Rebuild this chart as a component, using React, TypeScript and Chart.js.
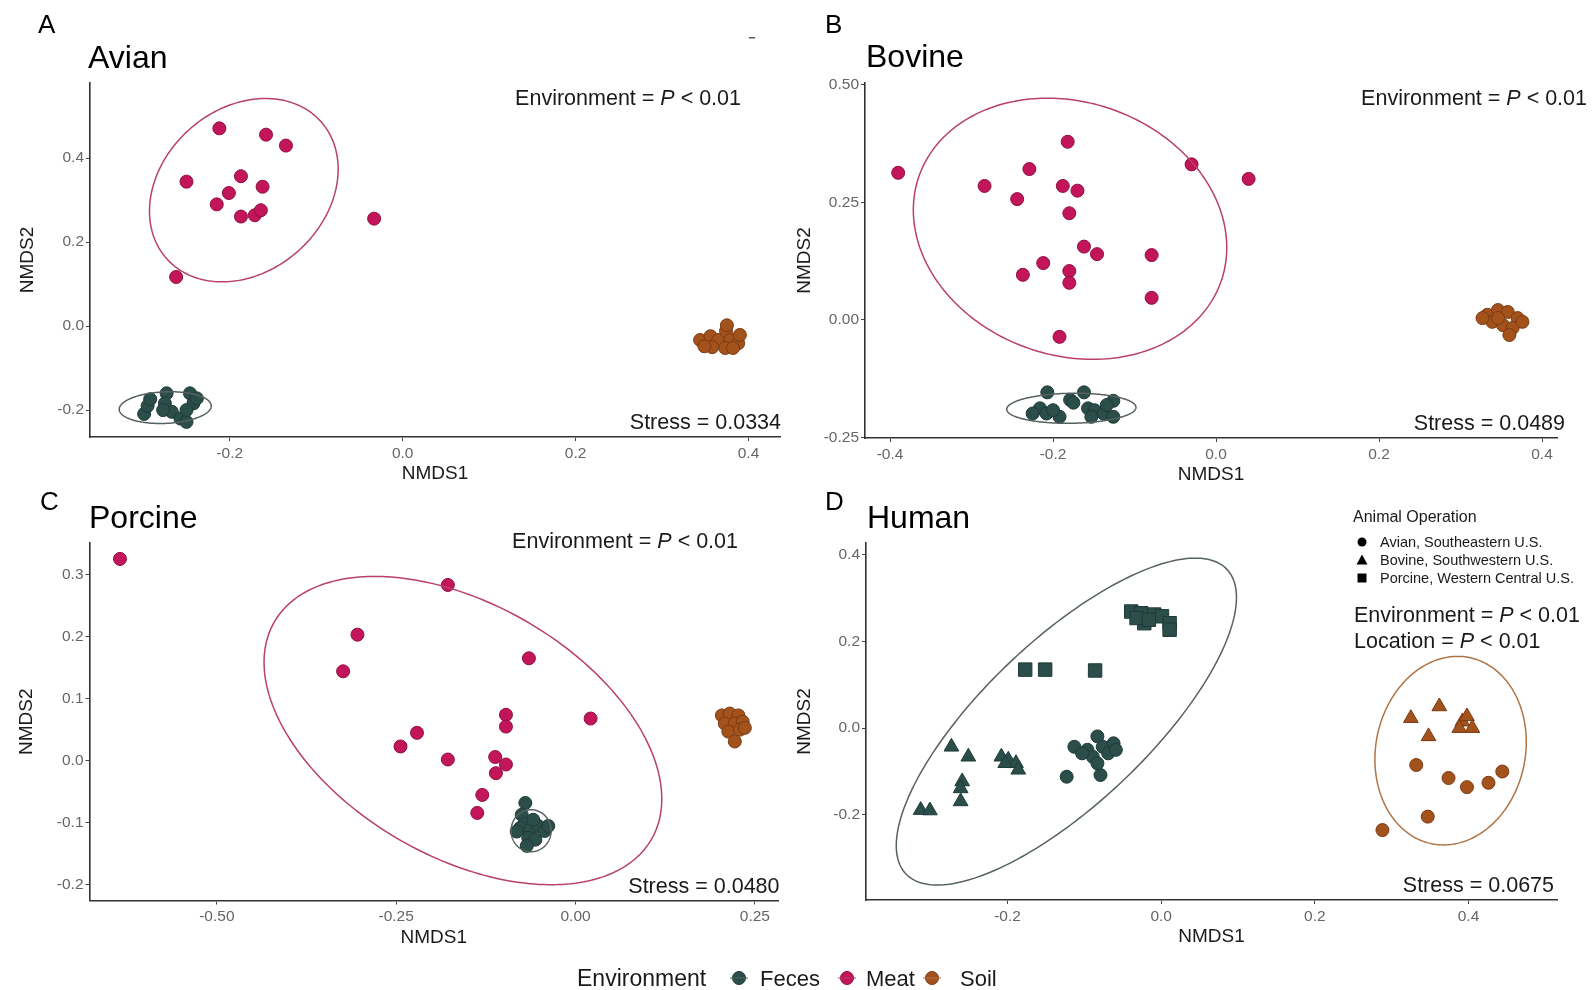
import React, { useEffect, useRef } from "react";
import { Chart, registerables } from "chart.js";
Chart.register(...registerables);

const FONT = '"Liberation Sans", Arial, Helvetica, sans-serif';

// ---------- data: Avian ----------
const avianFeces = [
  [-0.299, -0.209], [-0.295, -0.19], [-0.292, -0.174], [-0.273, -0.16], [-0.275, -0.184],
  [-0.267, -0.204], [-0.257, -0.22], [-0.25, -0.228], [-0.277, -0.2], [-0.246, -0.16],
  [-0.242, -0.184], [-0.25, -0.2], [-0.238, -0.172],
];
const avianMeat = [
  [-0.212, 0.471], [-0.158, 0.456], [-0.135, 0.43], [-0.25, 0.344], [-0.187, 0.357],
  [-0.162, 0.332], [-0.201, 0.317], [-0.215, 0.29], [-0.187, 0.261], [-0.171, 0.264],
  [-0.164, 0.276], [-0.033, 0.256], [-0.262, 0.117],
];
const avianSoil = [
  [0.344, -0.033], [0.356, -0.024], [0.365, -0.033], [0.374, -0.012], [0.375, 0.002],
  [0.379, -0.033], [0.388, -0.041], [0.373, -0.052], [0.358, -0.05], [0.39, -0.021],
  [0.382, -0.052], [0.349, -0.048],
];
// ellipse: [centerX, centerY, u.x, u.y, v.x, v.y]
const avianFecesEllipse = [-0.2746, -0.194, 0.0532, 0.004, 0, 0.0376];
const avianMeatEllipse = [-0.1837, 0.3238, 0.1091, 0.05, 0, 0.2125];
const avianXTicks = [-0.2, 0, 0.2, 0.4];
const avianXLabels = ["-0.2", "0.0", "0.2", "0.4"];
const avianYTicks = [-0.2, 0, 0.2, 0.4];
const avianYLabels = ["-0.2", "0.0", "0.2", "0.4"];

// ---------- data: Bovine ----------
const bovineFeces = [
  [-0.207, -0.154], [-0.162, -0.154], [-0.179, -0.17], [-0.175, -0.176], [-0.216, -0.188],
  [-0.225, -0.199], [-0.208, -0.199], [-0.192, -0.206], [-0.157, -0.188], [-0.149, -0.192],
  [-0.138, -0.199], [-0.126, -0.172], [-0.126, -0.206], [-0.153, -0.206], [-0.134, -0.181],
  [-0.2, -0.192],
];
const bovineMeat = [
  [-0.39, 0.313], [-0.182, 0.379], [-0.03, 0.331], [0.04, 0.3], [-0.229, 0.321],
  [-0.284, 0.285], [-0.188, 0.285], [-0.17, 0.275], [-0.244, 0.257], [-0.18, 0.227],
  [-0.162, 0.156], [-0.146, 0.14], [-0.079, 0.138], [-0.212, 0.121], [-0.237, 0.096],
  [-0.18, 0.104], [-0.18, 0.079], [-0.079, 0.047], [-0.192, -0.036],
];
const bovineSoil = [
  [0.333, 0.011], [0.346, 0.021], [0.358, 0.017], [0.37, 0.004], [0.339, -0.004],
  [0.352, -0.011], [0.364, -0.017], [0.376, -0.004], [0.36, -0.032], [0.327, 0.004],
  [0.346, 0.004],
];
const bovineFecesEllipse = [-0.1775, -0.1879, 0.0793, 0.002, 0, 0.0319];
const bovineMeatEllipse = [-0.1791, 0.194, 0.1923, -0.04, 0, 0.2748];
const bovineXTicks = [-0.4, -0.2, 0, 0.2, 0.4];
const bovineXLabels = ["-0.4", "-0.2", "0.0", "0.2", "0.4"];
const bovineYTicks = [-0.25, 0, 0.25, 0.5];
const bovineYLabels = ["-0.25", "0.00", "0.25", "0.50"];

// ---------- data: Porcine ----------
const porcineFeces = [
  [-0.07, -0.068], [-0.075, -0.087], [-0.07, -0.101], [-0.077, -0.108], [-0.063, -0.111],
  [-0.052, -0.105], [-0.043, -0.113], [-0.066, -0.124], [-0.056, -0.127], [-0.068, -0.137],
  [-0.082, -0.114], [-0.038, -0.105], [-0.059, -0.095],
];
const porcineMeat = [
  [-0.635, 0.325], [-0.178, 0.283], [-0.304, 0.203], [-0.324, 0.144], [-0.065, 0.165],
  [-0.097, 0.074], [-0.097, 0.055], [0.021, 0.068], [-0.221, 0.045], [-0.244, 0.023],
  [-0.178, 0.002], [-0.112, 0.006], [-0.097, -0.006], [-0.111, -0.02], [-0.13, -0.055],
  [-0.137, -0.084],
];
const porcineSoil = [
  [0.204, 0.073], [0.215, 0.076], [0.227, 0.073], [0.208, 0.06], [0.222, 0.06],
  [0.233, 0.063], [0.213, 0.047], [0.229, 0.05], [0.236, 0.053], [0.222, 0.031],
];
const porcineFecesEllipse = [-0.062, -0.1127, 0.0279, 0, 0, 0.0338];
const porcineMeatEllipse = [-0.157, 0.0486, 0.2772, -0.11, 0, 0.2225];
const porcineXTicks = [-0.5, -0.25, 0, 0.25];
const porcineXLabels = ["-0.50", "-0.25", "0.00", "0.25"];
const porcineYTicks = [-0.2, -0.1, 0, 0.1, 0.2, 0.3];
const porcineYLabels = ["-0.2", "-0.1", "0.0", "0.1", "0.2", "0.3"];

// ---------- data: Human ----------
const humanFecesAvian = [
  [-0.123, -0.112], [-0.079, -0.108], [-0.113, -0.043], [-0.096, -0.05], [-0.083, -0.019],
  [-0.076, -0.043], [-0.062, -0.035], [-0.089, -0.066], [-0.083, -0.081], [-0.103, -0.058],
  [-0.069, -0.058], [-0.059, -0.05],
];
const humanFecesBovine = [
  [-0.273, -0.043], [-0.251, -0.066], [-0.259, -0.123], [-0.261, -0.139], [-0.261, -0.169],
  [-0.313, -0.189], [-0.301, -0.19], [-0.208, -0.066], [-0.199, -0.073], [-0.189, -0.081],
  [-0.186, -0.096], [-0.203, -0.081],
];
const humanFecesPorcine = [
  [-0.039, 0.269], [-0.026, 0.265], [-0.022, 0.242], [-0.009, 0.262], [0.001, 0.258],
  [0.011, 0.242], [0.011, 0.227], [-0.032, 0.254], [-0.016, 0.25], [-0.177, 0.135],
  [-0.151, 0.135], [-0.086, 0.133],
];
const humanSoilBovine = [
  [0.325, 0.023], [0.362, 0.05], [0.348, -0.019], [0.392, 0.015], [0.398, 0.027],
  [0.405, 0.0], [0.388, 0.0],
];
const humanSoilAvian = [
  [0.332, -0.085], [0.374, -0.115], [0.398, -0.136], [0.426, -0.126], [0.444, -0.1],
  [0.347, -0.204], [0.288, -0.235],
];
const humanFecesEllipse = [-0.1234, 0.0152, 0.2214, 0.286, 0, 0.2455];
const humanSoilEllipse = [0.3767, -0.0519, 0.0985, 0.02, 0, 0.2165];
const humanXTicks = [-0.2, 0, 0.2, 0.4];
const humanXLabels = ["-0.2", "0.0", "0.2", "0.4"];
const humanYTicks = [-0.2, 0, 0.2, 0.4];
const humanYLabels = ["-0.2", "0.0", "0.2", "0.4"];

const environments = ["Feces", "Meat", "Soil"];
const operations = ["Avian, Southeastern U.S.", "Bovine, Southwestern U.S.", "Porcine, Western Central U.S."];
const stressValues = ["0.0334", "0.0489", "0.0480", "0.0675"];

// ---------- styles ----------
const COL = { Feces: "#2c4e4a", Meat: "#c2155a", Soil: "#a4521c" };
const EDGE = { Feces: "#1e3a37", Meat: "#8f0f42", Soil: "#7a3a12" };
const ELL = { Feces: "#56625f", Meat: "#b8406a", Soil: "#b07445" };
const W = 1594;
const H = 990;

type Seg = { text: string; italic?: boolean };

function drawRich(ctx: CanvasRenderingContext2D, segs: Seg[], x: number, y: number, size: number, align: string, color: string) {
  const widths = segs.map((s) => {
    ctx.font = `${s.italic ? "italic " : ""}${size}px ${FONT}`;
    return ctx.measureText(s.text).width;
  });
  const total = widths.reduce((a, b) => a + b, 0);
  let cx = align === "right" ? x - total : align === "center" ? x - total / 2 : x;
  ctx.textAlign = "left";
  ctx.textBaseline = "alphabetic";
  ctx.fillStyle = color;
  segs.forEach((s, i) => {
    ctx.font = `${s.italic ? "italic " : ""}${size}px ${FONT}`;
    ctx.fillText(s.text, cx, y);
    cx += widths[i];
  });
}

function envSegs(label: string): Seg[] {
  return [{ text: label + " = " }, { text: "P", italic: true }, { text: " < 0.01" }];
}

function marker(ctx: CanvasRenderingContext2D, shape: string, x: number, y: number, color: string) {
  ctx.fillStyle = color;
  ctx.beginPath();
  if (shape === "circle") ctx.arc(x, y, 4.5, 0, Math.PI * 2);
  else if (shape === "triangle") {
    ctx.moveTo(x, y - 5.5);
    ctx.lineTo(x + 5.5, y + 4.5);
    ctx.lineTo(x - 5.5, y + 4.5);
    ctx.closePath();
  } else ctx.rect(x - 4.5, y - 4.5, 9, 9);
  ctx.fill();
}

type Panel = {
  plot: { l: number; t: number; r: number; b: number };
  xRange: number[];
  yRange: number[];
  xTicks: number[];
  xLabels: string[];
  yTicks: number[];
  yLabels: string[];
  series: { data: number[][]; env: string; shape: string; radius: number }[];
  ellipses: { p: number[]; env: string }[];
  draw: (ctx: CanvasRenderingContext2D) => void;
};

function ds(data: number[][], env: string, shape: string, radius: number) {
  return { data, env, shape, radius };
}

function panelLabels(ctx: CanvasRenderingContext2D, p: Panel, letter: string, letterX: number, letterY: number, title: string, titleX: number, titleY: number, yTitleX: number) {
  ctx.fillStyle = "#000";
  ctx.textAlign = "left";
  ctx.textBaseline = "alphabetic";
  ctx.font = `26px ${FONT}`;
  ctx.fillText(letter, letterX, letterY);
  ctx.font = `32px ${FONT}`;
  ctx.fillText(title, titleX, titleY);
  ctx.fillStyle = "#1a1a1a";
  ctx.font = `19px ${FONT}`;
  ctx.textAlign = "center";
  ctx.textBaseline = "middle";
  ctx.fillText("NMDS1", (p.plot.l + p.plot.r) / 2, p.plot.b + 37);
  ctx.save();
  ctx.translate(yTitleX, (p.plot.t + p.plot.b) / 2);
  ctx.rotate(-Math.PI / 2);
  ctx.fillText("NMDS2", 0, 0);
  ctx.restore();
}

const panels: Panel[] = [
  {
    plot: { l: 90, t: 83, r: 780, b: 437 },
    xRange: [-0.3616, 0.4364],
    yRange: [-0.264, 0.579],
    xTicks: avianXTicks, xLabels: avianXLabels, yTicks: avianYTicks, yLabels: avianYLabels,
    series: [ds(avianFeces, "Feces", "circle", 6.5), ds(avianMeat, "Meat", "circle", 6.5), ds(avianSoil, "Soil", "circle", 6.5)],
    ellipses: [{ p: avianFecesEllipse, env: "Feces" }, { p: avianMeatEllipse, env: "Meat" }],
    draw(ctx) {
      panelLabels(ctx, this, "A", 38, 33, "Avian", 88, 68, 28);
      drawRich(ctx, envSegs("Environment"), 741, 105, 21.5, "right", "#1a1a1a");
      drawRich(ctx, [{ text: "Stress = " + stressValues[0] }], 781, 429, 21.5, "right", "#1a1a1a");
      ctx.fillStyle = "#555";
      ctx.fillRect(749, 37, 6, 1.5);
    },
  },
  {
    plot: { l: 865, t: 83, r: 1557, b: 438 },
    xRange: [-0.4307, 0.4184],
    yRange: [-0.2511, 0.504],
    xTicks: bovineXTicks, xLabels: bovineXLabels, yTicks: bovineYTicks, yLabels: bovineYLabels,
    series: [ds(bovineFeces, "Feces", "circle", 6.5), ds(bovineMeat, "Meat", "circle", 6.5), ds(bovineSoil, "Soil", "circle", 6.5)],
    ellipses: [{ p: bovineFecesEllipse, env: "Feces" }, { p: bovineMeatEllipse, env: "Meat" }],
    draw(ctx) {
      panelLabels(ctx, this, "B", 825, 33, "Bovine", 866, 67, 805);
      drawRich(ctx, envSegs("Environment"), 1587, 105, 21.5, "right", "#1a1a1a");
      drawRich(ctx, [{ text: "Stress = " + stressValues[1] }], 1565, 429.5, 21.5, "right", "#1a1a1a");
    },
  },
  {
    plot: { l: 89.5, t: 543, r: 778, b: 900.5 },
    xRange: [-0.6775, 0.2822],
    yRange: [-0.225, 0.3506],
    xTicks: porcineXTicks, xLabels: porcineXLabels, yTicks: porcineYTicks, yLabels: porcineYLabels,
    series: [ds(porcineFeces, "Feces", "circle", 6.5), ds(porcineMeat, "Meat", "circle", 6.5), ds(porcineSoil, "Soil", "circle", 6.5)],
    ellipses: [{ p: porcineFecesEllipse, env: "Feces" }, { p: porcineMeatEllipse, env: "Meat" }],
    draw(ctx) {
      panelLabels(ctx, this, "C", 40, 510, "Porcine", 89, 528, 27);
      drawRich(ctx, envSegs("Environment"), 738, 548, 21.5, "right", "#1a1a1a");
      drawRich(ctx, [{ text: "Stress = " + stressValues[2] }], 779.5, 892.5, 21.5, "right", "#1a1a1a");
      // bottom legend
      drawRich(ctx, [{ text: "Environment" }], 577, 986, 23, "left", "#1a1a1a");
      const lx = [739, 847, 932];
      const tx = [760, 866, 960];
      environments.forEach((e, i) => {
        ctx.beginPath();
        ctx.arc(lx[i], 978, 6.5, 0, Math.PI * 2);
        ctx.fillStyle = (COL as any)[e];
        ctx.fill();
        ctx.strokeStyle = (EDGE as any)[e];
        ctx.lineWidth = 1;
        ctx.stroke();
        ctx.beginPath();
        ctx.moveTo(lx[i] - 9, 978);
        ctx.lineTo(lx[i] + 9, 978);
        ctx.strokeStyle = (ELL as any)[e];
        ctx.lineWidth = 1;
        ctx.stroke();
        drawRich(ctx, [{ text: e }], tx[i], 986, 22, "left", "#1a1a1a");
      });
    },
  },
  {
    plot: { l: 866, t: 543, r: 1557, b: 900 },
    xRange: [-0.3842, 0.5152],
    yRange: [-0.3963, 0.427],
    xTicks: humanXTicks, xLabels: humanXLabels, yTicks: humanYTicks, yLabels: humanYLabels,
    series: [
      ds(humanFecesAvian, "Feces", "circle", 6.5),
      ds(humanFecesBovine, "Feces", "triangle", 8.5),
      ds(humanFecesPorcine, "Feces", "rect", 9.5),
      ds(humanSoilBovine, "Soil", "triangle", 8.5),
      ds(humanSoilAvian, "Soil", "circle", 6.5),
    ],
    ellipses: [{ p: humanFecesEllipse, env: "Feces" }, { p: humanSoilEllipse, env: "Soil" }],
    draw(ctx) {
      panelLabels(ctx, this, "D", 825, 510, "Human", 867, 528, 805);
      drawRich(ctx, [{ text: "Animal Operation" }], 1353, 522, 16, "left", "#1a1a1a");
      const shapes = ["circle", "triangle", "square"];
      const ys = [542, 560, 578];
      operations.forEach((o, i) => {
        marker(ctx, shapes[i], 1362, ys[i], "#000");
        drawRich(ctx, [{ text: o }], 1380, ys[i] + 5, 14.5, "left", "#1a1a1a");
      });
      drawRich(ctx, envSegs("Environment"), 1354, 621.5, 21.5, "left", "#1a1a1a");
      drawRich(ctx, envSegs("Location"), 1354, 648, 21.5, "left", "#1a1a1a");
      drawRich(ctx, [{ text: "Stress = " + stressValues[3] }], 1554, 891.5, 21.5, "right", "#1a1a1a");
    },
  },
];

function makeChart(canvas: HTMLCanvasElement, p: Panel) {
  const datasets = p.series.map((s) => ({
    data: s.data.map(([x, y]) => ({ x, y })),
    pointStyle: s.shape,
    pointRadius: s.radius,
    pointBackgroundColor: (COL as any)[s.env],
    pointBorderColor: (EDGE as any)[s.env],
    pointBorderWidth: 1,
    showLine: false,
    clip: false as any,
  }));
  const overlay = {
    id: "overlay",
    afterDatasetsDraw(chart: any) {
      const { ctx, scales } = chart;
      const xs = scales.x;
      const ysc = scales.y;
      p.ellipses.forEach((e) => {
        const [cx, cy, ux, uy, vx, vy] = e.p;
        ctx.save();
        ctx.beginPath();
        for (let i = 0; i <= 240; i++) {
          const t = (i / 240) * Math.PI * 2;
          const px = xs.getPixelForValue(cx + ux * Math.cos(t) + vx * Math.sin(t));
          const py = ysc.getPixelForValue(cy + uy * Math.cos(t) + vy * Math.sin(t));
          if (i === 0) ctx.moveTo(px, py);
          else ctx.lineTo(px, py);
        }
        ctx.closePath();
        ctx.strokeStyle = (ELL as any)[e.env];
        ctx.lineWidth = 1.5;
        ctx.stroke();
        ctx.restore();
      });
    },
    afterDraw(chart: any) {
      const ctx = chart.ctx;
      ctx.save();
      p.draw(ctx);
      ctx.restore();
    },
  };
  const axisCommon = {
    type: "linear" as const,
    grid: { drawOnChartArea: false, drawTicks: true, tickLength: 4, color: "#444", lineWidth: 1 },
    border: { display: true, color: "#333", width: 1.6 },
    title: { display: false },
  };
  return new Chart(canvas, {
    type: "scatter",
    data: { datasets: datasets as any },
    options: {
      animation: false,
      responsive: false,
      maintainAspectRatio: false,
      devicePixelRatio: 1,
      events: [],
      layout: { padding: { left: 0, top: p.plot.t, right: W - p.plot.r, bottom: 0 }, autoPadding: false } as any,
      plugins: { legend: { display: false }, tooltip: { enabled: false } },
      scales: {
        x: {
          ...axisCommon,
          position: "bottom",
          min: p.xRange[0],
          max: p.xRange[1],
          afterBuildTicks: (s: any) => {
            s.ticks = p.xTicks.map((v) => ({ value: v }));
          },
          afterFit: (s: any) => {
            s.height = H - p.plot.b;
          },
          ticks: {
            autoSkip: false,
            maxRotation: 0,
            padding: 3,
            color: "#666",
            font: { family: FONT, size: 15.5 },
            callback: (_v: any, i: number) => p.xLabels[i],
          },
        },
        y: {
          ...axisCommon,
          position: "left",
          min: p.yRange[0],
          max: p.yRange[1],
          afterBuildTicks: (s: any) => {
            s.ticks = p.yTicks.map((v) => ({ value: v }));
          },
          afterFit: (s: any) => {
            s.width = p.plot.l;
          },
          ticks: {
            autoSkip: false,
            padding: 2,
            color: "#666",
            font: { family: FONT, size: 15.5 },
            callback: (_v: any, i: number) => p.yLabels[i],
          },
        },
      } as any,
    },
    plugins: [overlay],
  });
}

export default function App() {
  const refs = [useRef<HTMLCanvasElement>(null), useRef<HTMLCanvasElement>(null), useRef<HTMLCanvasElement>(null), useRef<HTMLCanvasElement>(null)];
  useEffect(() => {
    const charts = panels.map((p, i) => makeChart(refs[i].current as HTMLCanvasElement, p));
    return () => charts.forEach((c) => c.destroy());
  }, []);
  return (
    <div style={{ position: "absolute", left: 0, top: 0, width: W, height: H, background: "#fff", overflow: "hidden" }}>
      {refs.map((r, i) => (
        <canvas key={i} ref={r} width={W} height={H} style={{ position: "absolute", left: 0, top: 0, width: W, height: H }} />
      ))}
    </div>
  );
}
